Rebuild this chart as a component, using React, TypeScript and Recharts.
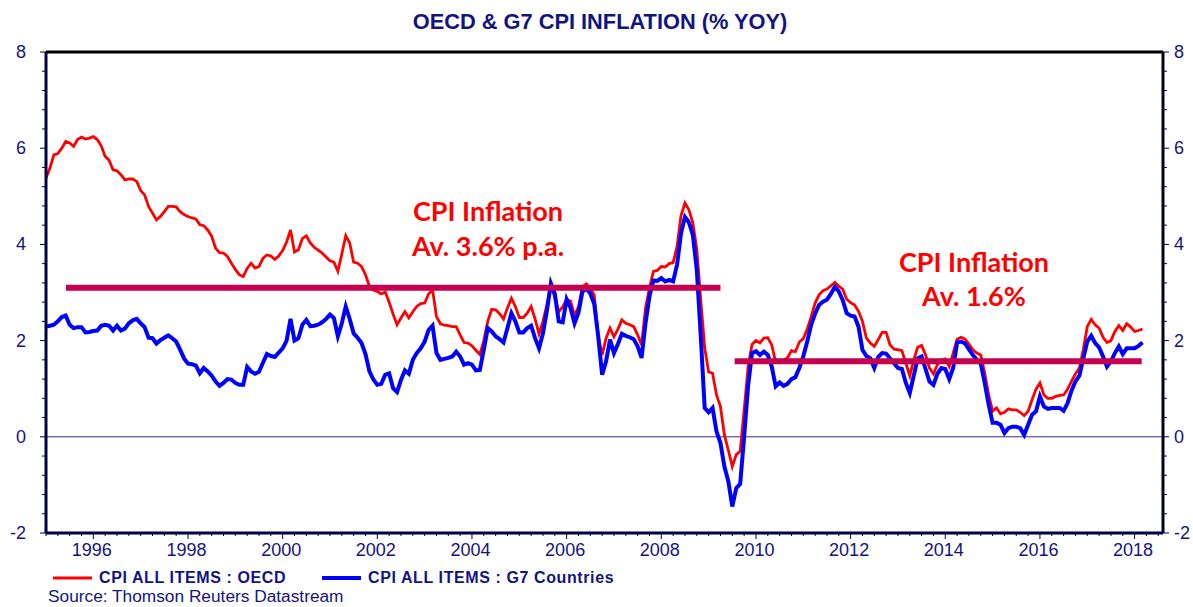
import React from 'react';
import { ComposedChart, Line, XAxis, YAxis, ReferenceLine } from 'recharts';

// Monthly CPI inflation, % YoY, Jan 1995 .. Mar 2018
const START_YEAR = 1995;

const oecd: number[] = [
  5.38, 5.59, 5.86, 5.89, 6.00, 6.14, 6.11, 6.04, 6.18, 6.23, 6.19, 6.21, // 1995
  6.24, 6.18, 6.05, 5.83, 5.75, 5.55, 5.53, 5.45, 5.34, 5.36, 5.36, 5.31, // 1996
  5.12, 5.03, 4.79, 4.65, 4.51, 4.58, 4.68, 4.79, 4.79, 4.78, 4.68, 4.62, // 1997
  4.58, 4.55, 4.53, 4.41, 4.39, 4.30, 4.17, 3.92, 3.83, 3.82, 3.75, 3.61, // 1998
  3.48, 3.37, 3.33, 3.50, 3.61, 3.51, 3.54, 3.71, 3.78, 3.76, 3.69, 3.76, // 1999
  3.87, 4.05, 4.30, 3.84, 3.89, 4.12, 4.18, 4.03, 3.94, 3.88, 3.82, 3.74, // 2000
  3.66, 3.63, 3.44, 3.80, 4.18, 4.03, 3.63, 3.61, 3.54, 3.37, 3.13, 3.05, // 2001
  3.02, 2.97, 3.01, 2.80, 2.55, 2.33, 2.47, 2.60, 2.47, 2.60, 2.71, 2.77, // 2002
  2.78, 2.97, 3.06, 2.50, 2.35, 2.32, 2.31, 2.29, 2.29, 2.12, 1.96, 1.95, // 2003
  1.89, 1.80, 1.71, 2.00, 2.40, 2.65, 2.64, 2.56, 2.45, 2.68, 2.88, 2.71, // 2004
  2.48, 2.48, 2.57, 2.71, 2.45, 2.14, 2.40, 2.75, 3.14, 2.90, 2.60, 2.70, // 2005
  2.85, 2.82, 2.52, 2.70, 3.12, 3.18, 3.08, 2.95, 2.10, 1.70, 2.05, 2.26, // 2006
  2.08, 2.24, 2.43, 2.36, 2.33, 2.29, 2.12, 1.91, 2.68, 3.09, 3.44, 3.46, // 2007
  3.54, 3.53, 3.60, 3.62, 3.96, 4.60, 4.86, 4.72, 4.45, 3.90, 2.85, 1.85, // 2008
  1.35, 1.32, 0.87, 0.63, 0.04, -0.28, -0.62, -0.37, -0.30, 0.55, 1.45, 1.92, // 2009
  2.00, 1.95, 2.05, 2.06, 1.91, 1.55, 1.57, 1.60, 1.64, 1.79, 1.77, 1.97, // 2010
  2.04, 2.24, 2.50, 2.78, 2.95, 3.04, 3.07, 3.14, 3.21, 3.13, 3.07, 2.86, // 2011
  2.79, 2.74, 2.61, 2.40, 2.05, 1.95, 1.88, 2.02, 2.17, 2.17, 1.91, 1.82, // 2012
  1.81, 1.79, 1.53, 1.27, 1.60, 1.86, 1.90, 1.70, 1.43, 1.31, 1.50, 1.59, // 2013
  1.62, 1.46, 1.74, 2.03, 2.07, 2.03, 1.93, 1.81, 1.74, 1.70, 1.32, 0.87, // 2014
  0.53, 0.60, 0.48, 0.51, 0.58, 0.56, 0.56, 0.51, 0.44, 0.53, 0.77, 0.99, // 2015
  1.12, 0.87, 0.80, 0.80, 0.84, 0.86, 0.87, 0.99, 1.15, 1.31, 1.43, 1.82, // 2016
  2.29, 2.44, 2.33, 2.26, 2.07, 1.96, 2.00, 2.19, 2.31, 2.21, 2.35, 2.28, // 2017
  2.19, 2.21, 2.24, // 2018
];

const g7: number[] = [
  2.29, 2.31, 2.33, 2.40, 2.49, 2.52, 2.33, 2.26, 2.28, 2.28, 2.17, 2.18, // 1995
  2.20, 2.21, 2.31, 2.33, 2.31, 2.21, 2.31, 2.21, 2.25, 2.36, 2.42, 2.45, // 1996
  2.36, 2.28, 2.06, 2.05, 1.94, 2.01, 2.06, 2.11, 2.05, 1.98, 1.81, 1.63, // 1997
  1.52, 1.51, 1.48, 1.32, 1.43, 1.36, 1.27, 1.15, 1.06, 1.12, 1.20, 1.19, // 1998
  1.12, 1.08, 1.08, 1.45, 1.36, 1.31, 1.35, 1.54, 1.72, 1.68, 1.66, 1.75, // 1999
  1.84, 2.00, 2.45, 2.00, 2.05, 2.33, 2.43, 2.30, 2.31, 2.33, 2.38, 2.45, // 2000
  2.54, 2.47, 2.09, 2.36, 2.71, 2.45, 2.15, 2.06, 1.95, 1.72, 1.36, 1.19, // 2001
  1.08, 1.10, 1.29, 1.32, 1.01, 0.93, 1.18, 1.38, 1.31, 1.60, 1.74, 1.84, // 2002
  1.98, 2.22, 2.31, 1.74, 1.60, 1.62, 1.64, 1.67, 1.77, 1.67, 1.50, 1.53, // 2003
  1.50, 1.38, 1.39, 1.81, 2.26, 2.19, 2.09, 2.03, 1.96, 2.26, 2.57, 2.40, // 2004
  2.17, 2.17, 2.26, 2.31, 2.05, 1.84, 2.15, 2.62, 3.19, 2.98, 2.40, 2.38, // 2005
  2.86, 2.68, 2.36, 2.58, 3.02, 3.08, 2.98, 2.76, 2.09, 1.29, 1.57, 2.02, // 2006
  1.74, 1.93, 2.14, 2.10, 2.07, 2.03, 1.88, 1.64, 2.36, 2.92, 3.25, 3.24, // 2007
  3.30, 3.23, 3.26, 3.23, 3.58, 4.23, 4.57, 4.46, 4.20, 3.47, 2.10, 0.60, // 2008
  0.51, 0.60, 0.11, -0.13, -0.62, -0.93, -1.45, -1.07, -0.98, 0.00, 1.05, 1.74, // 2009
  1.78, 1.70, 1.77, 1.70, 1.46, 1.05, 1.13, 1.06, 1.10, 1.20, 1.24, 1.43, // 2010
  1.67, 1.98, 2.33, 2.56, 2.74, 2.81, 2.85, 2.97, 3.12, 3.02, 2.84, 2.57, // 2011
  2.52, 2.50, 2.29, 1.81, 1.68, 1.63, 1.43, 1.66, 1.74, 1.73, 1.63, 1.53, // 2012
  1.43, 1.41, 1.12, 0.91, 1.27, 1.63, 1.67, 1.41, 1.15, 1.08, 1.31, 1.43, // 2013
  1.41, 1.20, 1.43, 1.96, 1.98, 1.94, 1.82, 1.70, 1.60, 1.52, 1.12, 0.67, // 2014
  0.29, 0.29, 0.25, 0.08, 0.18, 0.21, 0.21, 0.18, 0.04, 0.25, 0.46, 0.53, // 2015
  0.84, 0.63, 0.58, 0.60, 0.60, 0.60, 0.54, 0.70, 0.96, 1.15, 1.27, 1.63, // 2016
  1.98, 2.10, 1.95, 1.86, 1.67, 1.46, 1.57, 1.74, 1.88, 1.72, 1.84, 1.84, // 2017
  1.84, 1.89, 1.96, // 2018
];

// Period-average bars (drawn level, start, end in decimal years)
const avgLevels = [3.1, 1.57];
const avgStarts = [1995.42, 2009.55];
const avgEnds = [2009.25, 2018.15];

const yTicks = [
  -2, -1.6, -1.2, -0.8, -0.4, 0, 0.4, 0.8, 1.2, 1.6, 2, 2.4, 2.8, 3.2, 3.6,
  4, 4.4, 4.8, 5.2, 5.6, 6, 6.4, 6.8, 7.2, 7.6, 8,
];
const yLabels = [-2, 0, 2, 4, 6, 8];
const yearLabels = [1996, 1998, 2000, 2002, 2004, 2006, 2008, 2010, 2012, 2014, 2016, 2018];

const seriesNames = ['CPI ALL ITEMS : OECD', 'CPI ALL ITEMS : G7 Countries'];
const annotations = [
  ['CPI Inflation', 'Av. 3.6% p.a.'],
  ['CPI Inflation', 'Av. 1.6%'],
];

const data = oecd.map((v, i) => ({ t: START_YEAR + i / 12, oecd: v, g7: g7[i] }));
const xTicks = Array.from({ length: 95 }, (_, i) => START_YEAR + i * 0.25);

const NAVY = '#14147f';
const AXIS = '#000046';
const FONT = '"Liberation Sans", Arial, sans-serif';
const TICK_FS = 18;

const isLabelled = (v: number, list: number[]) => list.some((l) => Math.abs(l - v) < 1e-6);

const XTick = (props: any) => {
  const { x, y, payload } = props;
  const v = payload.value as number;
  const major = isLabelled(v, yearLabels);
  return (
    <g>
      <line x1={x} x2={x} y1={y} y2={y + (major ? 6 : 3)} stroke={AXIS} strokeWidth={1} />
      {major && (
        <text x={x - 1.5} y={y + 23} textAnchor="middle" fill={NAVY} fontSize={TICK_FS} fontFamily={FONT}>
          {Math.round(v)}
        </text>
      )}
    </g>
  );
};

const LeftTick = (props: any) => {
  const { x, y, payload } = props;
  const v = payload.value as number;
  const major = isLabelled(v, yLabels);
  return (
    <g>
      <line x1={x} x2={x - (major ? 6 : 4)} y1={y} y2={y} stroke={AXIS} strokeWidth={1} />
      {major && (
        <text x={x - 20} y={y + 6} textAnchor="end" fill={NAVY} fontSize={TICK_FS} fontFamily={FONT}>
          {Math.round(v)}
        </text>
      )}
    </g>
  );
};

const RightTick = (props: any) => {
  const { x, y, payload } = props;
  const v = payload.value as number;
  const major = isLabelled(v, yLabels);
  return (
    <g>
      <line x1={x} x2={x + (major ? 6 : 4)} y1={y} y2={y} stroke={AXIS} strokeWidth={1} />
      {major && (
        <text x={x + 11} y={y + 6} textAnchor="start" fill={NAVY} fontSize={TICK_FS} fontFamily={FONT}>
          {Math.round(v)}
        </text>
      )}
    </g>
  );
};

export default function App() {
  return (
    <div style={{ position: 'absolute', left: 0, top: 0, width: 1193, height: 607, background: '#fff' }}>
      <ComposedChart
        width={1193}
        height={607}
        data={data}
        margin={{ top: 52, right: 0, bottom: 44, left: 6 }}
      >
        <XAxis
          dataKey="t"
          type="number"
          domain={[1995, 2018.6]}
          ticks={xTicks}
          interval={0}
          tick={<XTick />}
          tickLine={false}
          tickSize={0}
          tickMargin={0}
          height={30}
          axisLine={{ stroke: AXIS, strokeWidth: 3 }}
          allowDataOverflow
        />
        <YAxis
          yAxisId="left"
          type="number"
          domain={[-2, 8]}
          ticks={yTicks}
          interval={0}
          tick={<LeftTick />}
          tickLine={false}
          tickSize={0}
          tickMargin={0}
          width={40}
          axisLine={{ stroke: AXIS, strokeWidth: 3 }}
          allowDataOverflow
        />
        <YAxis
          yAxisId="right"
          orientation="right"
          type="number"
          domain={[-2, 8]}
          ticks={yTicks}
          interval={0}
          tick={<RightTick />}
          tickLine={false}
          tickSize={0}
          tickMargin={0}
          width={30}
          axisLine={{ stroke: '#000020', strokeWidth: 3 }}
          allowDataOverflow
        />
        <ReferenceLine yAxisId="left" y={8} stroke="#000" strokeWidth={3} />
        <ReferenceLine yAxisId="left" y={0} stroke="#2a2a9a" strokeWidth={1} />
        <Line
          yAxisId="left"
          dataKey="oecd"
          type="linear"
          stroke="#ff0000"
          strokeWidth={2.8}
          dot={false}
          isAnimationActive={false}
        />
        <Line
          yAxisId="left"
          dataKey="g7"
          type="linear"
          stroke="#0000ff"
          strokeWidth={4}
          dot={false}
          isAnimationActive={false}
        />
        {avgLevels.map((lvl, i) => (
          <ReferenceLine
            key={i}
            yAxisId="left"
            segment={[
              { x: avgStarts[i], y: lvl },
              { x: avgEnds[i], y: lvl },
            ]}
            stroke="#c4004f"
            strokeWidth={6}
          />
        ))}
      </ComposedChart>
      <svg
        width={1193}
        height={607}
        style={{ position: 'absolute', left: 0, top: 0, pointerEvents: 'none' }}
      >
        <text x={600} y={29} textAnchor="middle" fill={NAVY} fontSize={21.8} fontWeight="bold" fontFamily={FONT}>
          OECD &amp; G7 CPI INFLATION (% YOY)
        </text>
        <g fill="#ff0000" fontFamily="Lato, 'Open Sans', sans-serif" fontWeight="bold" fontSize={27} textAnchor="middle">
          <text x={488} y={221}>{annotations[0][0]}</text>
          <text x={488} y={256}>{annotations[0][1]}</text>
          <text x={974} y={272}>{annotations[1][0]}</text>
          <text x={974} y={306}>{annotations[1][1]}</text>
        </g>
        <line x1={53} x2={92} y1={578} y2={578} stroke="#ff0000" strokeWidth={3} />
        <text x={99} y={583} fill={NAVY} fontSize={16} letterSpacing={0.6} fontWeight="bold" fontFamily={FONT}>
          {seriesNames[0]}
        </text>
        <line x1={322} x2={361} y1={578} y2={578} stroke="#0000ff" strokeWidth={4} />
        <text x={368} y={583} fill={NAVY} fontSize={16} letterSpacing={0.6} fontWeight="bold" fontFamily={FONT}>
          {seriesNames[1]}
        </text>
        <text x={48} y={602} fill={NAVY} fontSize={17.3} fontFamily={FONT}>
          Source: Thomson Reuters Datastream
        </text>
      </svg>
    </div>
  );
}
